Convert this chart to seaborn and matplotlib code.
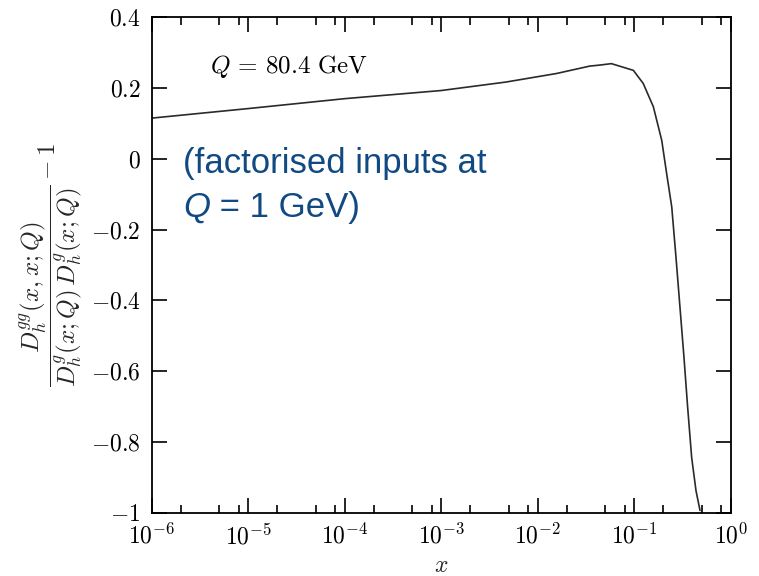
import numpy as np
import pandas as pd
import matplotlib
matplotlib.use("Agg")
import matplotlib.pyplot as plt
import seaborn as sns
from matplotlib.ticker import LogLocator, NullFormatter

# values
x_vals = [1e-6, 1e-5, 1e-4, 1e-3, 4.7e-3, 1.56e-2, 3.46e-2, 4.43e-2, 5.8e-2,
          9.8e-2, 0.124, 0.158, 0.193, 0.217, 0.245, 0.271, 0.298, 0.328,
          0.358, 0.394, 0.437, 0.481]
ratio_vals = [0.115, 0.142, 0.170, 0.193, 0.217, 0.241, 0.262, 0.265, 0.269,
              0.250, 0.213, 0.147, 0.052, -0.042, -0.136, -0.278, -0.419,
              -0.561, -0.702, -0.844, -0.938, -0.994]

y_ticks = [0.4, 0.2, 0, -0.2, -0.4, -0.6, -0.8, -1]
y_ticklabels = ['$0.4$', '$0.2$', '$0$', '$-0.2$', '$-0.4$', '$-0.6$', '$-0.8$', '$-1$']
x_ticks = [1e-6, 1e-5, 1e-4, 1e-3, 1e-2, 1e-1, 1e0]
x_ticklabels = ['$10^{-6}$', '$10^{-5}$', '$10^{-4}$', '$10^{-3}$',
                '$10^{-2}$', '$10^{-1}$', '$10^{0}$']

df = pd.DataFrame({'x': x_vals, 'r': ratio_vals})

sns.set_theme(style='ticks')
plt.rcParams['mathtext.fontset'] = 'cm'
plt.rcParams['font.family'] = ['Liberation Sans', 'DejaVu Sans']

fig = plt.figure(figsize=(7.59, 5.76), dpi=100)
ax = fig.add_axes([0.1999, 0.110, 0.7628, 0.860])

sns.lineplot(data=df, x='x', y='r', ax=ax, color='#2a2a2a', linewidth=1.2)

ax.set_xscale('log')
ax.set_xlim(1e-6, 1)
ax.set_ylim(-1, 0.4)

ax.set_xticks(x_ticks, labels=x_ticklabels)
ax.xaxis.set_minor_locator(LogLocator(base=10, subs=[2, 5, 8]))
ax.xaxis.set_minor_formatter(NullFormatter())
ax.set_yticks(y_ticks, labels=y_ticklabels)

ax.tick_params(which='both', direction='in', top=True, right=True,
               color='black', width=1.2, labelsize=17, labelcolor='black')
ax.tick_params(which='major', length=10.5)
ax.tick_params(axis='y', which='major', pad=8)
ax.tick_params(axis='x', which='major', pad=8)
ax.tick_params(which='minor', length=5.5)
for s in ax.spines.values():
    s.set_linewidth(1.3)
    s.set_color('black')

ax.set_xlabel('$x$', fontsize=17, labelpad=4)
ax.set_ylabel(r'$\dfrac{D_h^{gg}(x,x;Q)}{D_h^{g}(x;Q)\,D_h^{g}(x;Q)} - 1$',
              fontsize=18, labelpad=5)

ax.text(0.1007, 0.887, r'$Q\, =\, 80.4\ \mathrm{GeV}$', transform=ax.transAxes,
        fontsize=18, va='baseline', ha='left', color='black')

blue = '#114a82'
ax.text(0.054, 0.686, '(factorised inputs at', transform=ax.transAxes,
        fontsize=25, va='baseline', ha='left', color=blue)
tq = ax.text(0.054, 0.597, 'Q', transform=ax.transAxes, fontsize=25,
             style='italic', va='baseline', ha='left', color=blue)
ax.annotate(' = 1 GeV)', xy=(1, 0), xycoords=tq, fontsize=25,
            va='bottom', ha='left', color=blue)

fig.savefig('out.png', dpi=100)
